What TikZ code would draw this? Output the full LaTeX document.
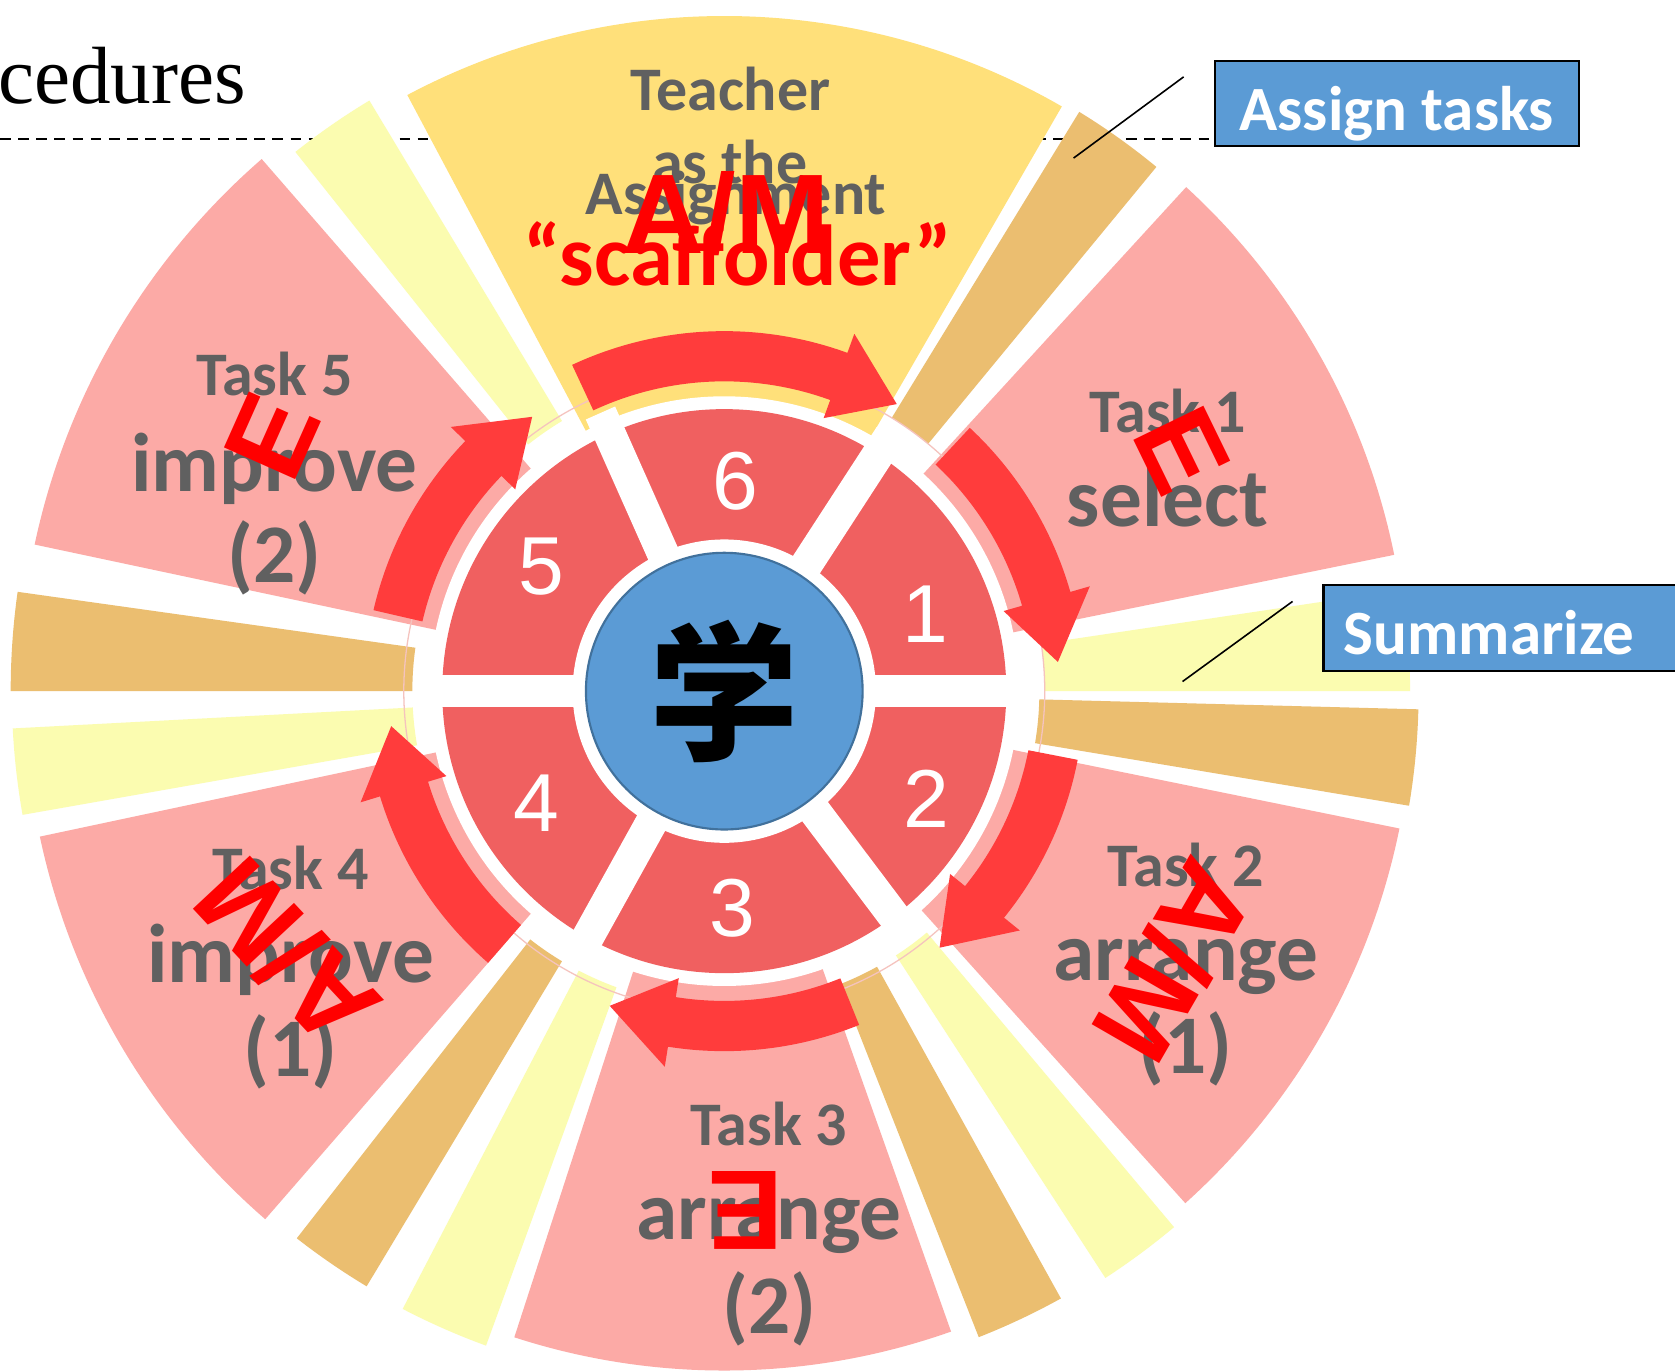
\documentclass[tikz,border=0pt]{standalone}
\usepackage{fontspec}
\newfontfamily\calib{Carlito}
\newfontfamily\arl{Liberation Sans}
\newfontfamily\tnr{Liberation Serif}
\newfontfamily\cjk{Noto Sans CJK SC}
\definecolor{taskpink}{RGB}{252,170,166}
\definecolor{gold}{RGB}{255,224,122}
\definecolor{wtan}{RGB}{235,190,112}
\definecolor{lyellow}{RGB}{251,252,176}
\definecolor{segred}{RGB}{240,96,96}
\definecolor{arrred}{RGB}{255,60,60}
\definecolor{boxblue}{RGB}{91,155,213}
\definecolor{blueedge}{RGB}{65,113,156}
\definecolor{graytext}{RGB}{96,96,96}
\definecolor{faintpink}{RGB}{245,195,190}
\newcommand\sectorfill[5]{%
  \fill[#1] (#2:#4) arc[start angle=#2, end angle=#3, radius=#4] -- (#3:#5) arc[start angle=#3, end angle=#2, radius=#5] -- cycle;}
\newcommand\cwarrow[2]{%
  \pgfmathsetmacro\necka{#2+11}%
  \fill[arrred] (#1:337) arc[start angle=#1, end angle=\necka, radius=337] -- (\necka:356) -- (#2:313.5) -- (\necka:272) -- (\necka:290) arc[start angle=\necka, end angle=#1, radius=290] -- cycle;}
\tikzset{
  gtxt/.style={font={\calib\bfseries\fontsize{29pt}{34pt}\selectfont}, text=graytext, anchor=base, inner sep=0pt},
  gbig/.style={font={\calib\bfseries\fontsize{39pt}{46pt}\selectfont}, text=graytext, anchor=base, inner sep=0pt},
  redov/.style={font={\arl\bfseries\fontsize{53pt}{60pt}\selectfont}, text=red, inner sep=0pt},
  redsc/.style={font={\calib\bfseries\fontsize{40.5pt}{46pt}\selectfont}, text=red, anchor=base, inner sep=0pt},
  digit/.style={font={\arl\fontsize{38.5pt}{44pt}\selectfont}, text=white, inner sep=0pt},
  bluebox/.style={draw=black, line width=1pt, fill=boxblue, text=white, font={\calib\bfseries\fontsize{29.5pt}{35pt}\selectfont}, minimum height=40pt, text height=25pt, text depth=0pt},
  leader/.style={draw=black, line width=0.75pt},
  dashline/.style={draw=black, line width=1pt, dash pattern=on 5pt off 3.5pt},
}
\begin{document}
\begin{tikzpicture}[x=0.5pt, y=0.5pt]
\clip (0,0) rectangle (1568,1284);
\fill[white] (0,0) rectangle (1568,1284);
% title fragment and dashed rule
\node[anchor=base west, inner sep=0pt, font={\tnr\fontsize{38pt}{44pt}\selectfont}] (ced) at (-2,1187) {cedures};
\node[bluebox, minimum width=170.5pt, inner sep=0pt] (assign) at (1307.5,1187) {Assign tasks};
\coordinate (dl) at (0,1154);
\draw[dashline] (dl) -- (dl -| assign.west);
% outer wedges
\begin{scope}[shift={(678,637)}]
\sectorfill{gold}{60}{118}{632}{250}
\sectorfill{wtan}{50.5}{58.5}{636}{300}
\sectorfill{taskpink}{11.5}{47.5}{640}{250}
\sectorfill{lyellow}{0}{8.5}{642}{300}
\sectorfill{wtan}{-9.5}{-1.5}{650}{295}
\sectorfill{taskpink}{-48}{-11.5}{645}{250}
\sectorfill{lyellow}{-57}{-50}{655}{295}
\sectorfill{wtan}{-68.5}{-61}{650}{295}
\sectorfill{taskpink}{-108}{-70.5}{636}{250}
\sectorfill{lyellow}{-117.5}{-110}{652}{295}
\sectorfill{wtan}{-128}{-121}{650}{295}
\sectorfill{taskpink}{-168}{-131}{655}{250}
\sectorfill{lyellow}{-177}{-170}{667}{292}
\sectorfill{wtan}{172}{180}{668}{292}
\sectorfill{taskpink}{131}{168}{660}{250}
\sectorfill{lyellow}{121}{128.5}{645}{295}
\fill[white] (0,0) circle (276);
\draw[faintpink, line width=0.6pt] (0,0) circle (300);
% cycle arrows
\cwarrow{115}{59}
\cwarrow{47}{5}
\cwarrow{-11}{-50}
\cwarrow{-68}{-110}
\cwarrow{-131}{-174}
\cwarrow{167}{125}
% numbered ring
\fill[segred] (0,0) circle (264);
\fill[white] (0,0) circle (142);
\foreach \g in {0,57,114,180,241,307} \draw[white, line width=15pt] (0,0) -- (\g:285);
\node[circle, fill=boxblue, draw=blueedge, line width=1pt, minimum size=129.5pt, inner sep=0pt, font={\cjk\bfseries\fontsize{70pt}{80pt}\selectfont}] (xue) at (0,0) {学};
\node[digit] (n1) at (188,72) {1};
\node[digit] (n6) at (10,197) {6};
\node[digit] (n5) at (-171,117) {5};
\node[digit] (n4) at (-176,-105) {4};
\node[digit] (n3) at (8,-203) {3};
\node[digit] (n2) at (189,-101) {2};
\end{scope}
% task labels
\node[gtxt] (t1a) at (1093,879) {Task 1};
\node[gbig] (t1b) at (1093,791) {select};
\node[gtxt] (t5a) at (257,914) {Task 5};
\node[gbig] (t5b) at (257,824) {improve};
\node[gbig] (t5c) at (257,739) {(2)};
\node[gtxt] (t4a) at (272,451) {Task 4};
\node[gbig] (t4b) at (272,364) {improve};
\node[gbig] (t4c) at (272,276) {(1)};
\node[gtxt] (t2a) at (1110,454) {Task 2};
\node[gbig] (t2b) at (1110,366) {arrange};
\node[gbig] (t2c) at (1110,279) {(1)};
\node[gtxt] (t3a) at (720,212) {Task 3};
\node[gbig] (t3b) at (720,124) {arrange};
\node[gbig] (t3c) at (720,36) {(2)};
% teacher sector
\node[gtxt] (tea) at (684,1181) {Teacher};
\node[gtxt] (ast) at (683,1112) {as the};
\node[gtxt] (asg) at (689,1083) {Assignment};
\node[redov, anchor=base] (am0) at (680,1047) {A/M};
\node[redsc] (scf) at (691,1017) {“scaffolder”};
% red overlays
\node[redov, rotate=-64] (e1) at (1107,862) {E};
\node[redov, rotate=66] (e5) at (255,876) {E};
\node[redov, rotate=180] (e3) at (698,151) {E};
\node[redov, rotate=-120] (am2) at (1100,384) {A/M};
\node[redov, rotate=133] (am4) at (268,391) {A/M};
% callouts
\node[bluebox, anchor=west, text width=149.5pt, align=left, inner xsep=9.5pt, inner ysep=0pt] (summ) at (1238,696) {Summarize};
\coordinate (l1a) at (1108,1212);
\coordinate (l1b) at (1005,1136);
\draw[leader] (l1a) -- (l1b);
\coordinate (l2a) at (1210,721);
\coordinate (l2b) at (1107,646);
\draw[leader] (l2a) -- (l2b);
\end{tikzpicture}
\end{document}
